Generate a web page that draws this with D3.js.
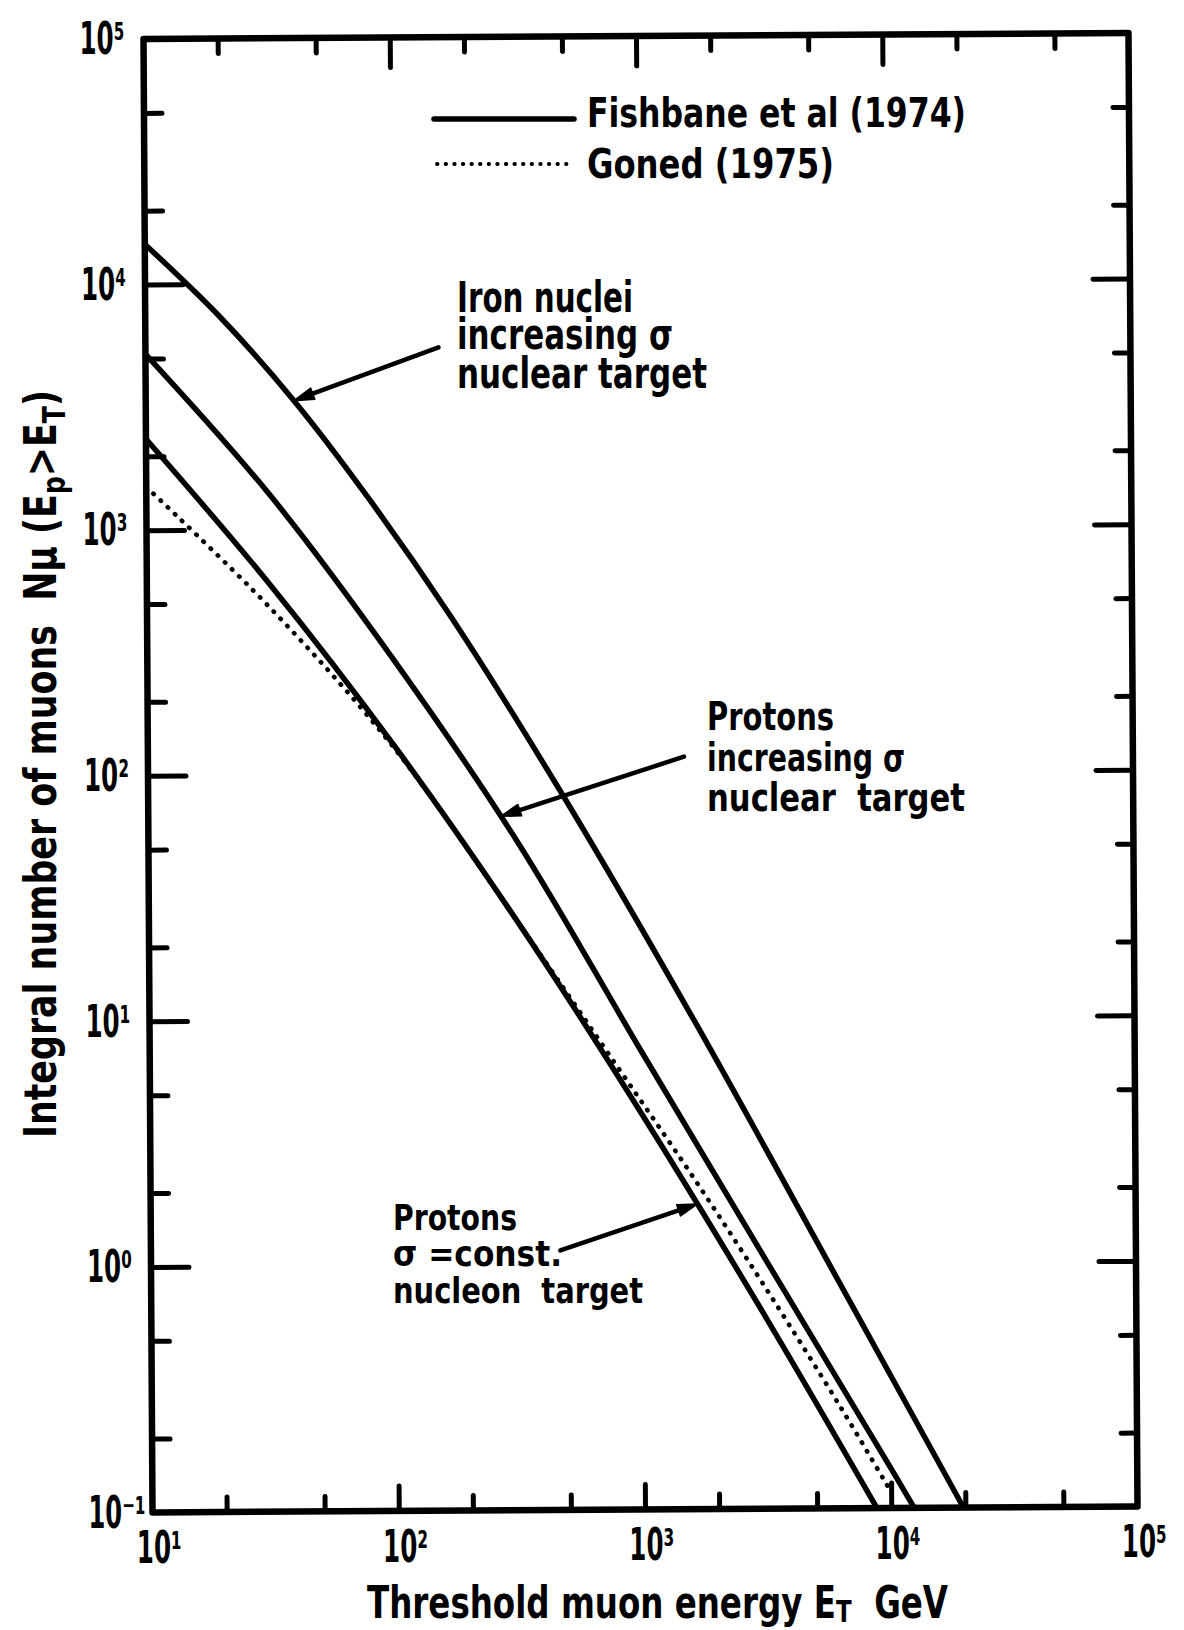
<!DOCTYPE html>
<html><head><meta charset="utf-8">
<script src="https://cdn.jsdelivr.net/npm/d3@7"></script>
<style>
html,body{margin:0;padding:0;background:#fff;}
svg{display:block;background:#fff;}
text{font-family:"Liberation Sans Narrow","DejaVu Sans Condensed","Arial Narrow",sans-serif;font-weight:bold;fill:#000;white-space:pre;}
</style></head><body>
<svg id="c" width="1184" height="1630"></svg>
<script>
// ---------------- data ----------------
const xTickValues = [10, 100, 1000, 10000, 100000];
const xTickExponents = ["1", "2", "3", "4", "5"];
const yTickValues = [0.1, 1, 10, 100, 1000, 10000, 100000];
const yTickExponents = ["-1", "0", "1", "2", "3", "4", "5"];

// Fishbane et al (1974): iron nuclei, increasing sigma, nuclear target
const ironE = [10, 20, 40, 80, 172, 488, 1622, 6790, 19650];
const ironN = [14600, 7400, 3340, 1330, 434, 80, 9.84, 0.71, 0.1];
// Fishbane et al (1974): protons, increasing sigma, nuclear target
const protonIncE = [10, 31.6, 100, 316, 1000, 3160, 10000, 12400];
const protonIncN = [5210, 1390, 293, 52.5, 7.24, 1.02, 0.145, 0.1];
// Fishbane et al (1974): protons, sigma = const, nucleon target
const protonConstE = [10, 31.6, 100, 316, 1000, 3160, 8750];
const protonConstN = [2350, 597, 131, 24.7, 4.03, 0.592, 0.1];
// Goned (1975)
const gonedE = [10, 31.6, 100, 316, 794, 1585, 3162, 6310, 10000];
const gonedN = [1500, 480, 128, 24.7, 6.34, 2.28, 0.78, 0.255, 0.116];

const legendLabels = ["Fishbane et al (1974)", "Goned (1975)"];
const xTitle = ["Threshold muon energy E", "T", "  GeV"];
const yTitle = ["Integral number of muons  N", "\u03bc", " (E", "p", ">E", "T", ")"];

// annotation arrows: [tailE, tailN, tipE, tipN]
const arrowIron = [155, 5460, 40, 3340];
const arrowProtonInc = [1503, 116, 270, 67];
const arrowProtonConst = [460, 1.14, 1663, 1.75];
const noteIron = ["Iron nuclei", "increasing \u03c3", "nuclear target"];
const noteProtonInc = ["Protons", "increasing \u03c3", "nuclear  target"];
const noteProtonConst = ["Protons", "\u03c3 =const.", "nucleon  target"];

// ---------------- layout ----------------
const svg = d3.select("#c");
const M = {left: 148, right: 1133, top: 36, bottom: 1509.5};
const ROT = -0.35, CX = 640.5, CY = 772.75;
function rot(p) {
  const a = ROT * Math.PI / 180, dx = p[0] - CX, dy = p[1] - CY;
  return [CX + dx * Math.cos(a) - dy * Math.sin(a), CY + dx * Math.sin(a) + dy * Math.cos(a)];
}
const x = d3.scaleLog().domain([10, 1e5]).range([M.left, M.right]);
const y = d3.scaleLog().domain([0.1, 1e5]).range([M.bottom, M.top]);

const plot = svg.append("g").attr("transform", `rotate(${ROT},${CX},${CY})`);

function minorVals(d0, d1) { const out = []; for (let d = d0; d < d1 * 0.999; d *= 10) out.push(2 * d, 5 * d); return out; }
const xMinor = minorVals(10, 1e5);
const yMinor = minorVals(0.1, 1e5);
const xMajorInner = xTickValues.slice(1, -1);
const yMajorInner = yTickValues.slice(1, -1);

function styleAxis(g) {
  g.select(".domain").remove();
  g.selectAll("line").attr("stroke", "#000").attr("stroke-width", 5).attr("stroke-linecap", "round");
}
plot.append("g").attr("transform", `translate(0,${M.bottom})`).call(d3.axisBottom(x).tickValues(xMajorInner).tickSize(-25).tickFormat("")).call(styleAxis);
plot.append("g").attr("transform", `translate(0,${M.bottom})`).call(d3.axisBottom(x).tickValues(xMinor).tickSize(-15).tickFormat("")).call(styleAxis);
plot.append("g").attr("transform", `translate(0,${M.top})`).call(d3.axisTop(x).tickValues(xMajorInner).tickSize(-30).tickFormat("")).call(styleAxis);
plot.append("g").attr("transform", `translate(0,${M.top})`).call(d3.axisTop(x).tickValues(xMinor).tickSize(-15).tickFormat("")).call(styleAxis);
plot.append("g").attr("transform", `translate(${M.left},0)`).call(d3.axisLeft(y).tickValues(yMajorInner).tickSize(-38).tickFormat("")).call(styleAxis);
plot.append("g").attr("transform", `translate(${M.left},0)`).call(d3.axisLeft(y).tickValues(yMinor).tickSize(-18).tickFormat("")).call(styleAxis);
plot.append("g").attr("transform", `translate(${M.right},0)`).call(d3.axisRight(y).tickValues(yMajorInner).tickSize(-37).tickFormat("")).call(styleAxis);
plot.append("g").attr("transform", `translate(${M.right},0)`).call(d3.axisRight(y).tickValues(yMinor).tickSize(-16).tickFormat("")).call(styleAxis);

plot.append("rect").attr("x", M.left).attr("y", M.top).attr("width", M.right - M.left).attr("height", M.bottom - M.top)
  .attr("fill", "none").attr("stroke", "#000").attr("stroke-width", 6.5).attr("stroke-linejoin", "round");

const line = d3.line().x(d => x(d[0])).y(d => y(d[1])).curve(d3.curveCatmullRom.alpha(0.5));
const zip = (a, b) => a.map((v, i) => [v, b[i]]);
[[ironE, ironN], [protonIncE, protonIncN], [protonConstE, protonConstN]].forEach(([e, n]) => {
  plot.append("path").attr("d", line(zip(e, n))).attr("fill", "none").attr("stroke", "#000")
    .attr("stroke-width", 5.5).attr("stroke-linecap", "round");
});
plot.append("path").attr("d", line(zip(gonedE, gonedN))).attr("fill", "none").attr("stroke", "#000")
  .attr("stroke-width", 4.6).attr("stroke-linecap", "round").attr("stroke-dasharray", "0.5 9.4");

function arrow(a) {
  const t = [x(a[0]), y(a[1])], h = [x(a[2]), y(a[3])];
  const dx = h[0] - t[0], dy = h[1] - t[1], L = Math.hypot(dx, dy), ux = dx / L, uy = dy / L;
  const back = [h[0] - ux * 20, h[1] - uy * 20];
  plot.append("line").attr("x1", t[0]).attr("y1", t[1]).attr("x2", back[0]).attr("y2", back[1])
    .attr("stroke", "#000").attr("stroke-width", 4.5).attr("stroke-linecap", "round");
  plot.append("path").attr("d", `M${h[0]},${h[1]}L${back[0] - uy * 6},${back[1] + ux * 6}L${back[0] + uy * 6},${back[1] - ux * 6}Z`)
    .attr("fill", "#000").attr("stroke", "#000").attr("stroke-width", 1.5).attr("stroke-linejoin", "round");
}
arrow(arrowIron); arrow(arrowProtonInc); arrow(arrowProtonConst);

// ---------------- text ----------------
function txt(xp, yp, s, size, len, anchor) {
  const t = svg.append("text").attr("x", xp).attr("y", yp).attr("font-size", size).text(s);
  if (anchor) t.attr("text-anchor", anchor);
  if (len) t.attr("textLength", len).attr("lengthAdjust", "spacingAndGlyphs");
  return t;
}
const SUP = {"-": "\u207b", "0": "\u2070", "1": "\u00b9", "2": "\u00b2", "3": "\u00b3", "4": "\u2074", "5": "\u2075"};
const sup = s => s.split("").map(c => SUP[c]).join("");
function powLabel(xLeft, yp, e) {
  const w = 32 + (e.length > 1 ? 25 : 13);
  return txt(xLeft + w, yp, "10" + sup(e), 44, w, "end");
}
// y tick labels
yTickValues.forEach((v, i) => {
  const p = rot([M.left - 27, y(v)]);
  powLabel(p[0] - 37, p[1] + 15, yTickExponents[i]);
});
// x tick labels
xTickValues.forEach((v, i) => {
  const p = rot([x(v), M.bottom + 51]);
  powLabel(p[0] - 16, p[1], xTickExponents[i]);
});

// legend
svg.append("line").attr("x1", 434).attr("x2", 574).attr("y1", 119).attr("y2", 119)
  .attr("stroke", "#000").attr("stroke-width", 5.5).attr("stroke-linecap", "round");
svg.append("line").attr("x1", 437).attr("x2", 574).attr("y1", 164).attr("y2", 164)
  .attr("stroke", "#000").attr("stroke-width", 3.8).attr("stroke-linecap", "round").attr("stroke-dasharray", "0.5 8.1");
txt(587, 127, legendLabels[0], 40, 379);
txt(587, 178, legendLabels[1], 40, 247);

// notes (one text element per note, one tspan per line)
const noteLayouts = [
  {lines: noteIron, x: 457, y: [312, 349, 388], size: 42, len: [176, 216, 250]},
  {lines: noteProtonInc, x: 707, y: [730, 771, 811], size: 39, len: [127, 198, 258]},
  {lines: noteProtonConst, x: 393, y: [1230, 1266, 1303], size: 36, len: [124, 169, 250]}
];
noteLayouts.forEach(n => {
  const t = svg.append("text").attr("font-size", n.size);
  n.lines.forEach((s, i) => t.append("tspan").attr("x", n.x).attr("y", n.y[i])
    .attr("textLength", n.len[i]).attr("lengthAdjust", "spacingAndGlyphs").text(s));
});

// x title
const xt = svg.append("text").attr("x", 367).attr("y", 1618).attr("font-size", 44)
  .attr("textLength", 581).attr("lengthAdjust", "spacingAndGlyphs");
xt.append("tspan").text(xTitle[0]);
xt.append("tspan").attr("dy", 4).attr("font-size", 31).text(xTitle[1]);
xt.append("tspan").attr("dy", -4).text(xTitle[2]);

// y title
const yt = svg.append("text").attr("transform", "translate(56,1138) rotate(-90)").attr("font-size", 44)
  .attr("textLength", 748).attr("lengthAdjust", "spacingAndGlyphs");
yt.append("tspan").text(yTitle[0]);
yt.append("tspan").text(yTitle[1]);
yt.append("tspan").text(yTitle[2]);
yt.append("tspan").attr("dy", 9).attr("font-size", 32).text(yTitle[3]);
yt.append("tspan").attr("dy", -9).text(yTitle[4]);
yt.append("tspan").attr("dy", 9).attr("font-size", 32).text(yTitle[5]);
yt.append("tspan").attr("dy", -9).text(yTitle[6]);
</script>
</body></html>
